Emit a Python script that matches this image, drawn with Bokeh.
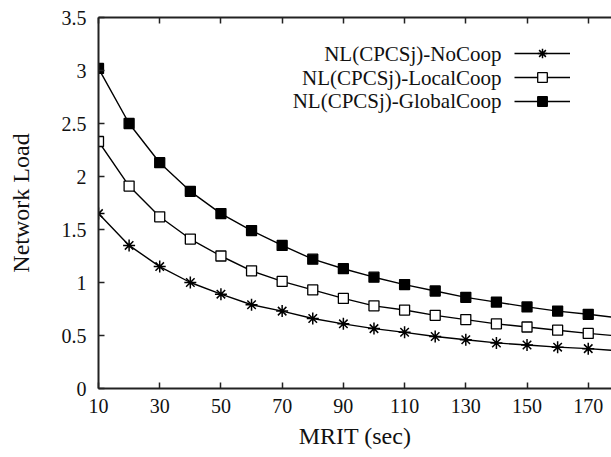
from bokeh.plotting import figure
from bokeh.models import (Range1d, LinearAxis, FixedTicker, Legend, LegendItem, Label,
                          ColumnDataSource)
from bokeh.embed import file_html
from bokeh.resources import INLINE

# ---- data ----
mrit = [10, 20, 30, 40, 50, 60, 70, 80, 90, 100, 110, 120, 130, 140, 150, 160, 170, 180]
nl_nocoop = [1.65, 1.35, 1.15, 1.00, 0.89, 0.79, 0.73, 0.66, 0.61, 0.565, 0.53, 0.49,
             0.46, 0.43, 0.41, 0.39, 0.376, 0.355]
nl_localcoop = [2.33, 1.91, 1.62, 1.41, 1.25, 1.11, 1.01, 0.93, 0.85, 0.78, 0.74, 0.69,
                0.65, 0.61, 0.58, 0.55, 0.52, 0.495]
nl_globalcoop = [3.02, 2.50, 2.13, 1.86, 1.65, 1.49, 1.35, 1.22, 1.13, 1.05, 0.98, 0.92,
                 0.86, 0.815, 0.77, 0.73, 0.70, 0.665]
series_names = ["NL(CPCSj)-NoCoop", "NL(CPCSj)-LocalCoop", "NL(CPCSj)-GlobalCoop"]
x_ticks = [10, 30, 50, 70, 90, 110, 130, 150, 170]
y_ticks = [0, 0.5, 1, 1.5, 2, 2.5, 3, 3.5]
x_label = "MRIT (sec)"
y_label = "Network Load"

FONT = "Liberation Serif"

p = figure(width=611, height=457, output_backend="svg", toolbar_location=None,
           x_range=Range1d(10, 177.6), y_range=Range1d(0, 3.5),
           min_border_left=98, min_border_right=0, min_border_top=17, min_border_bottom=69,
           x_axis_location=None, y_axis_location=None)
p.outline_line_color = None
p.grid.visible = False
p.background_fill_color = "white"
p.border_fill_color = "white"

def style_axis(ax, labels=True):
    ax.axis_line_width = 2
    ax.axis_line_color = "#222222"
    ax.major_tick_in = 6
    ax.major_tick_out = 0
    ax.major_tick_line_width = 1.5
    ax.major_tick_line_color = "#222222"
    ax.minor_tick_line_color = None
    ax.major_label_text_font = FONT
    if labels:
        ax.major_label_text_font_size = "20px"
        ax.major_label_text_color = "#111111"
    else:
        ax.major_label_text_font_size = "0px"
        ax.major_label_text_color = None
    ax.axis_label_text_font = FONT
    ax.axis_label_text_font_size = "24px"
    ax.axis_label_text_font_style = "normal"
    ax.axis_label_text_color = "#111111"

xb = LinearAxis(ticker=FixedTicker(ticks=x_ticks), axis_label=x_label)
style_axis(xb)
xb.major_label_standoff = 10
xb.axis_label_standoff = 7
p.add_layout(xb, "below")

xt = LinearAxis(ticker=FixedTicker(ticks=x_ticks))
style_axis(xt, labels=False)
xt.major_label_standoff = 0
p.add_layout(xt, "above")

yl = LinearAxis(ticker=FixedTicker(ticks=y_ticks), axis_label=y_label)
style_axis(yl)
yl.major_label_standoff = 12
yl.axis_label_standoff = 25
p.add_layout(yl, "left")

src = ColumnDataSource(dict(x=mrit, a=nl_nocoop, b=nl_localcoop, c=nl_globalcoop))

items = []
specs = [("a", "asterisk", "black", 12, 1.5),
         ("b", "square", "white", 10, 1.3),
         ("c", "square", "black", 10, 1.3)]
for (col, marker, fill, size, lw), name in zip(specs, series_names):
    r_line = p.line("x", col, source=src, line_color="black", line_width=1.4)
    r_pts = p.scatter("x", col, source=src, marker=marker, size=size,
                      fill_color=fill, line_color="black", line_width=lw)
    items.append(LegendItem(label=" ", renderers=[r_line, r_pts]))

legend = Legend(items=items, location=(416, 275), orientation="vertical",
                padding=0, margin=0, spacing=0, label_standoff=0, label_width=0,
                label_height=24, glyph_height=24, glyph_width=56,
                label_text_font_size="1px", label_text_color=None,
                border_line_color=None, background_fill_alpha=0)
p.add_layout(legend, "center")

for name, yy in zip(series_names, [335, 310.6, 287.3]):
    p.add_layout(Label(x=403, y=yy, x_units="screen", y_units="screen", text=name,
                       text_align="right", text_baseline="middle",
                       text_font=FONT, text_font_size="21px", text_color="#111111"))

open("out.html", "w").write(file_html(p, INLINE))
